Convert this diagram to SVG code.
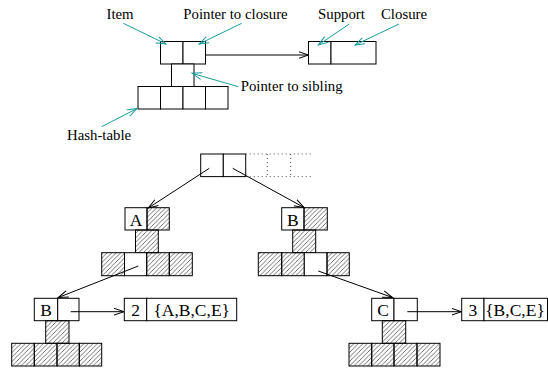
<svg xmlns="http://www.w3.org/2000/svg" width="548" height="368" viewBox="0 0 548 368">
  <defs>
    <pattern id="hatch" width="4.5" height="4.5" patternUnits="userSpaceOnUse">
      <path d="M-1,1 L1,-1 M0,4.5 L4.5,0 M3.5,5.5 L5.5,3.5" stroke="#333" stroke-width="0.7"/>
    </pattern>
    <marker id="arrow" markerUnits="userSpaceOnUse" markerWidth="12" markerHeight="10" refX="10" refY="4" orient="auto">
      <path d="M0,0.6 L10,4 L0,7.4" fill="none" stroke="#000" stroke-width="1"/>
    </marker>
    <marker id="arrow-teal" markerUnits="userSpaceOnUse" markerWidth="12" markerHeight="10" refX="10" refY="4" orient="auto">
      <path d="M0,0.6 L10,4 L0,7.4" fill="none" stroke="#1a9c9c" stroke-width="1"/>
    </marker>
  </defs>
  <style>
    .cell { fill: #fff; stroke: #000; stroke-width: 1; }
    .hatched { fill: url(#hatch); stroke: #000; stroke-width: 1; }
    .dotted { fill: none; stroke: #555; stroke-width: 1; stroke-dasharray: 1 3; }
    .label { font-family: "Liberation Serif", "Times New Roman", serif; font-size: 14.8px; fill: #000; }
    .boxtext { font-family: "Liberation Serif", "Times New Roman", serif; font-size: 17.5px; fill: #000; text-anchor: middle; }
    .edge { fill: none; stroke: #000; stroke-width: 1; marker-end: url(#arrow); }
    .callout { fill: none; stroke: #1a9c9c; stroke-width: 1; marker-end: url(#arrow-teal); }
  </style>

  <!-- Legend: structure of a single node -->
  <g id="legend-item">
    <rect class="cell" x="160.5" y="41.5" width="22.5" height="22.5"/>
    <rect class="cell" x="183" y="41.5" width="22.5" height="22.5"/>
    <rect class="cell" x="171.5" y="64" width="22.5" height="22.5"/>
  </g>
  <g id="legend-hashtable">
    <rect class="cell" x="138" y="86.5" width="22.5" height="22.5"/>
    <rect class="cell" x="160.5" y="86.5" width="22.5" height="22.5"/>
    <rect class="cell" x="183" y="86.5" width="22.5" height="22.5"/>
    <rect class="cell" x="205.5" y="86.5" width="22.5" height="22.5"/>
  </g>
  <g id="legend-closure">
    <rect class="cell" x="308.5" y="41.5" width="22.5" height="22.5"/>
    <rect class="cell" x="331" y="41.5" width="45" height="22.5"/>
  </g>
  <g id="legend-labels">
    <text class="label" x="106.5" y="18.5">Item</text>
    <text class="label" x="183.3" y="18.5">Pointer to closure</text>
    <text class="label" x="318" y="18.5">Support</text>
    <text class="label" x="381" y="18.5">Closure</text>
    <text class="label" x="240.7" y="90.7">Pointer to sibling</text>
    <text class="label" x="67" y="140">Hash-table</text>
  </g>

  <!-- Tree nodes -->
  <g id="root">
    <rect class="cell" x="200.7" y="154" width="22.6" height="22.6"/>
    <rect class="cell" x="223.3" y="154" width="22.4" height="22.6"/>
    <path class="dotted" d="M245.7,154 H313.3 M245.7,176.6 H313.3 M267.3,154 V176.6 M290.7,154 V176.6"/>
  </g>

  <g id="node-A">
    <rect class="cell" x="125" y="207.7" width="22" height="22.3"/>
    <rect class="hatched" x="147" y="207.7" width="22.3" height="22.3"/>
    <rect class="hatched" x="135.5" y="230" width="22.8" height="22.7"/>
    <text class="boxtext" x="136" y="225.5">A</text>
    <rect class="hatched" x="101.7" y="252.7" width="22.8" height="23"/>
    <rect class="cell" x="124.5" y="252.7" width="22.2" height="23"/>
    <rect class="hatched" x="146.7" y="252.7" width="22.6" height="23"/>
    <rect class="hatched" x="169.3" y="252.7" width="23" height="23"/>
  </g>

  <g id="node-B">
    <rect class="cell" x="281.7" y="207.7" width="22.3" height="22.3"/>
    <rect class="hatched" x="304" y="207.7" width="23.3" height="22.3"/>
    <rect class="hatched" x="292.7" y="230" width="23" height="22.7"/>
    <text class="boxtext" x="292.8" y="225.5">B</text>
    <rect class="hatched" x="258.3" y="252.7" width="23.4" height="23"/>
    <rect class="hatched" x="281.7" y="252.7" width="22.6" height="23"/>
    <rect class="cell" x="304.3" y="252.7" width="22.7" height="23"/>
    <rect class="hatched" x="327" y="252.7" width="22.3" height="23"/>
  </g>

  <g id="node-AB">
    <rect class="cell" x="34.3" y="298.3" width="23.4" height="22.4"/>
    <rect class="cell" x="57.7" y="298.3" width="21.3" height="22.4"/>
    <rect class="hatched" x="45.7" y="320.7" width="23.3" height="22.6"/>
    <text class="boxtext" x="46" y="316">B</text>
    <rect class="hatched" x="11.7" y="343.3" width="22.6" height="22.7"/>
    <rect class="hatched" x="34.3" y="343.3" width="22.7" height="22.7"/>
    <rect class="hatched" x="57" y="343.3" width="22.3" height="22.7"/>
    <rect class="hatched" x="79.3" y="343.3" width="22.4" height="22.7"/>
  </g>

  <g id="closure-AB">
    <rect class="cell" x="124.3" y="298.3" width="22.4" height="22.4"/>
    <rect class="cell" x="146.7" y="298.3" width="90" height="22.4"/>
    <text class="boxtext" x="135.5" y="316">2</text>
    <text class="boxtext" x="191.7" y="316">{A,B,C,E}</text>
  </g>

  <g id="node-BC">
    <rect class="cell" x="371.7" y="298.3" width="22.3" height="22.4"/>
    <rect class="cell" x="394" y="298.3" width="23.3" height="22.4"/>
    <rect class="hatched" x="382.3" y="320.7" width="23.4" height="22.6"/>
    <text class="boxtext" x="383" y="316">C</text>
    <rect class="hatched" x="349" y="343.3" width="22.7" height="22.7"/>
    <rect class="hatched" x="371.7" y="343.3" width="22.3" height="22.7"/>
    <rect class="hatched" x="394" y="343.3" width="23" height="22.7"/>
    <rect class="hatched" x="417" y="343.3" width="23" height="22.7"/>
  </g>

  <g id="closure-BC">
    <rect class="cell" x="461.7" y="298.3" width="22.3" height="22.4"/>
    <rect class="cell" x="484" y="298.3" width="63.5" height="22.4"/>
    <text class="boxtext" x="472.8" y="316">3</text>
    <text class="boxtext" x="515" y="316">{B,C,E}</text>
  </g>

  <!-- Connectors -->
  <g id="connectors">
    <line class="edge" x1="205.5" y1="55" x2="308.5" y2="55"/>
    <line class="edge" x1="209.3" y1="168.3" x2="148.3" y2="208"/>
    <line class="edge" x1="232.7" y1="168.3" x2="304" y2="207.5"/>
    <line class="edge" x1="138.3" y1="266" x2="58.3" y2="297.5"/>
    <line class="edge" x1="318.3" y1="271" x2="392.5" y2="297.5"/>
    <line class="edge" x1="70.7" y1="311.7" x2="124" y2="311.7"/>
    <line class="edge" x1="407.3" y1="311.7" x2="461.5" y2="311.7"/>

    <line class="callout" x1="123.3" y1="23.3" x2="166" y2="44"/>
    <line class="callout" x1="241.7" y1="23.3" x2="199" y2="44"/>
    <line class="callout" x1="349.3" y1="24" x2="318.3" y2="45"/>
    <line class="callout" x1="399" y1="24" x2="355" y2="45"/>
    <line class="callout" x1="238.3" y1="86.7" x2="192" y2="73.3"/>
    <line class="callout" x1="101.7" y1="126.7" x2="137" y2="108.5"/>
  </g>
</svg>
